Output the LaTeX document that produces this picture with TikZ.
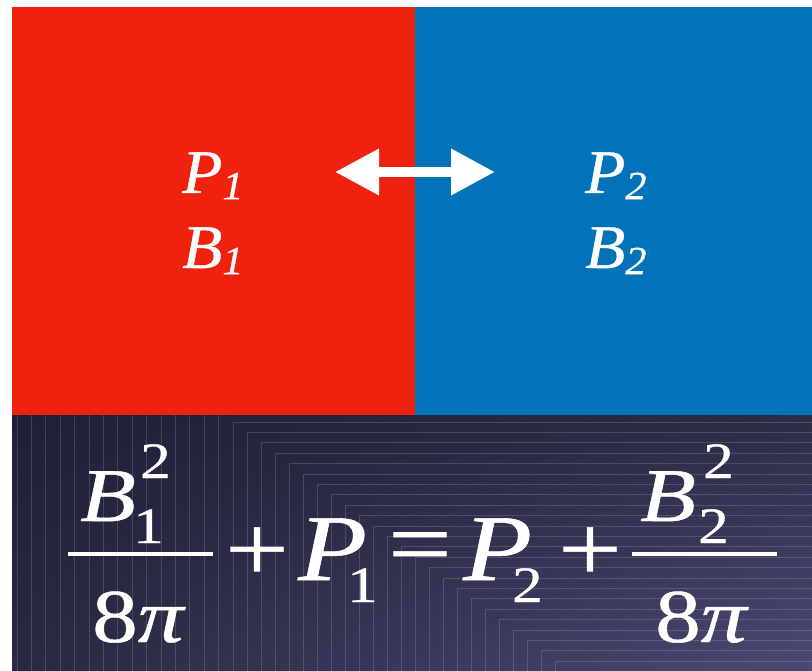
\documentclass[tikz,border=0pt]{standalone}
\usepackage{graphicx}
\usepackage{fontspec}
\setmainfont{Liberation Serif}[FakeBold=0.6]
\usepackage{tikz}
\usetikzlibrary{arrows.meta,shadings}

\definecolor{fieldred}{HTML}{EE220E}
\definecolor{fieldblue}{HTML}{0273B8}
\definecolor{nightA}{HTML}{1F1F38}
\definecolor{nightB}{HTML}{2C2C47}
\definecolor{nightC}{HTML}{292942}
\definecolor{nightD}{HTML}{4C4873}

\newcommand{\sym}[2]{\scalebox{1.06}[1]{\textit{#1}\raisebox{-0.1em}{\fontsize{40}{42}\selectfont\textit{#2}}}}
\newcommand{\wide}[1]{\scalebox{1.2}[1]{#1}}
\newcommand{\lowidx}[1]{\kern-20pt\raisebox{-22pt}{\fontsize{51}{55}\selectfont\upshape\wide{#1}}}

\begin{document}
\begin{tikzpicture}[x=1pt,y=-1pt,
  lbl/.style={text=white,inner sep=0pt,font=\fontsize{62}{70}\selectfont},
  big/.style={text=white,inner sep=0pt,anchor=base west,font=\fontsize{94}{100}\selectfont\itshape},
  mid/.style={text=white,inner sep=0pt,anchor=base west,font=\fontsize{76}{80}\selectfont},
  idx/.style={text=white,inner sep=0pt,anchor=base west,font=\fontsize{51}{55}\selectfont},
  op/.style={text=white,inner sep=0pt,font=\fontsize{94}{100}\selectfont},
  fracbar/.style={white,line width=3.5pt},
  twoway/.style={white,line width=10pt,
                 {Triangle[length=44pt,width=44pt]}-{Triangle[length=44pt,width=44pt]}},
  gridline/.style={white,opacity=0.15,line width=0.9pt}]

  \useasboundingbox (0,0) rectangle (812,671);

  % the two regions
  \fill[fieldred]  (12,7)  rectangle (415,415);
  \fill[fieldblue] (415,7) rectangle (812,415);

  % balance panel
  \shade[upper left=nightA,upper right=nightB,lower left=nightC,lower right=nightD]
    (12,415) rectangle (812,671);
  \foreach \k in {1,...,15}
    \draw[gridline] (233-14.4*\k,415) -- (233-14.4*\k,671);
  \foreach \i in {0,...,24}
    \draw[gridline] (233+14*\i,671) |- (812,422+10.4*\i);

  \node[lbl,anchor=base west] (p1) at (182,193) {\sym{P}{1}};
  \node[lbl,anchor=base west] (b1) at (182,268) {\sym{B}{1}};
  \node[lbl,anchor=base west] (p2) at (585,193) {\sym{P}{2}};
  \node[lbl,anchor=base west] (b2) at (585,268) {\sym{B}{2}};

  \coordinate (al) at (335,172);
  \coordinate (ar) at (495,172);
  \draw[twoway] (al) -- (ar);

  % left fraction
  \node[mid] (fanum) at (80,521) {\wide{\textit{B}}};
  \node[idx] (fasup) at (140,478) {\wide{2}};
  \node[idx] (fasub) at (133,543) {\wide{1}};
  \coordinate (fal) at (68,554);
  \coordinate (far) at (213,554);
  \draw[fracbar] (fal) -- (far);
  \node[mid] (faden) at (92,642) {\wide{8\textit{π}}};

  \node[op] (plusa) at (257,554) {\wide{+}};
  \node[big] (pa) at (298,580) {\wide{P}\lowidx{1}};
  \node[op] (equal) at (420,554) {\wide{=}};
  \node[big] (pb) at (463,580) {\wide{P}\lowidx{2}};
  \node[op] (plusb) at (590,554) {\wide{+}};

  % right fraction
  \node[mid] (fbnum) at (640,521) {\wide{\textit{B}}};
  \node[idx] (fbsup) at (703,478) {\wide{2}};
  \node[idx] (fbsub) at (698,543) {\wide{2}};
  \coordinate (fbl) at (632,554);
  \coordinate (fbr) at (777,554);
  \draw[fracbar] (fbl) -- (fbr);
  \node[mid] (fbden) at (655,642) {\wide{8\textit{π}}};

\end{tikzpicture}
\end{document}
